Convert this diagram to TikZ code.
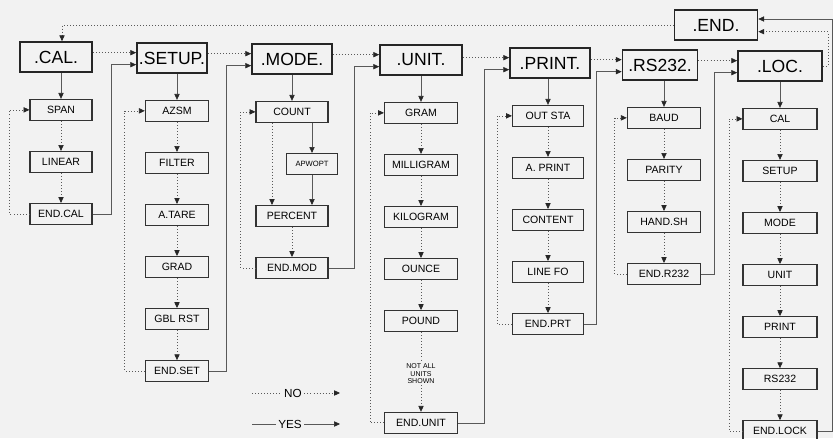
\documentclass[tikz,border=0pt]{standalone}
\usepackage{fontspec}
\setsansfont{Liberation Sans}
\usetikzlibrary{positioning,arrows.meta,calc}
\begin{document}
\begin{tikzpicture}[
      x=0.03cm, y=-0.03cm,
      font=\sffamily,
      >={Triangle[length=5pt,width=4.5pt,color=black!85]},
      node distance=0.9cm,
      menu/.style={draw=black!85, line width=1.4pt, minimum width=#1, minimum height=0.9cm, inner sep=1pt, font=\sffamily\fontsize{15}{16}\selectfont},
      sub/.style={draw=black!80, line width=0.9pt, minimum width=#1, minimum height=0.63cm, inner sep=1pt, font=\sffamily\fontsize{9}{10}\selectfont},
      note/.style={align=center, minimum height=0.63cm, inner sep=1pt, font=\sffamily\fontsize{6}{6.5}\selectfont},
      legend/.style={inner sep=2pt, font=\sffamily\fontsize{10}{10}\selectfont},
      yes/.style={draw=black!65, line width=0.5pt},
      no/.style={draw=black!65, line width=0.6pt, dotted}
  ]
    \fill[black!5] (0,0) rectangle (833,438);
    \useasboundingbox (0,0) rectangle (833,438);

    \node[menu=2.16cm] (calt) at (56,57) {.CAL.};
    \node[menu=2.1cm] (setupt) at (172,58) {.SETUP.};
    \node[menu=2.4cm] (modet) at (292,59) {.MODE.};
    \node[menu=2.46cm] (unitt) at (421,60) {.UNIT.};
    \node[menu=2.4cm] (printt) at (550,63) {.PRINT.};
    \node[menu=2.25cm] (rs232t) at (660,65) {.RS232.};
    \node[menu=2.52cm] (loct) at (780,66) {.LOC.};
    \node[menu=2.49cm] (endt) at (716,25) {.END.};

    \node[sub=1.86cm, below=0.78cm of calt, xshift=0.15cm] (span) {SPAN};
    \node[sub=1.86cm, below=of span] (linear) {LINEAR};
    \node[sub=1.86cm, below=of linear] (endcal) {END.CAL};

    \node[sub=1.9cm, below=0.78cm of setupt, xshift=0.15cm] (azsm) {AZSM};
    \node[sub=1.9cm, below=of azsm] (filter) {FILTER};
    \node[sub=1.9cm, below=of filter] (atare) {A.TARE};
    \node[sub=1.9cm, below=of atare] (grad) {GRAD};
    \node[sub=1.9cm, below=of grad] (gblrst) {GBL RST};
    \node[sub=1.9cm, below=of gblrst] (endset) {END.SET};

    \node[sub=2.16cm, below=0.78cm of modet] (count) {COUNT};
    \node[sub=1.53cm, below=of count, xshift=0.6cm, font=\sffamily\fontsize{6.5}{7}\selectfont] (apwopt) {APWOPT};
    \node[sub=2.16cm, below=of apwopt, xshift=-0.6cm] (percent) {PERCENT};
    \node[sub=2.16cm, below=of percent] (endmod) {END.MOD};

    \node[sub=2.19cm, below=0.78cm of unitt] (gram) {GRAM};
    \node[sub=2.19cm, below=of gram] (milligram) {MILLIGRAM};
    \node[sub=2.19cm, below=of milligram] (kilogram) {KILOGRAM};
    \node[sub=2.19cm, below=of kilogram] (ounce) {OUNCE};
    \node[sub=2.19cm, below=of ounce] (pound) {POUND};
    \node[note, below=of pound] (notall) {NOT ALL\\UNITS\\SHOWN};
    \node[sub=2.19cm, below=0.8cm of notall] (endunit) {END.UNIT};

    \node[sub=2.13cm, below=0.78cm of printt, xshift=-0.06cm] (outsta) {OUT STA};
    \node[sub=2.13cm, below=of outsta] (aprint) {A. PRINT};
    \node[sub=2.13cm, below=of aprint] (content) {CONTENT};
    \node[sub=2.13cm, below=of content] (linefo) {LINE FO};
    \node[sub=2.13cm, below=of linefo] (endprt) {END.PRT};

    \node[sub=2.2cm, below=0.78cm of rs232t, xshift=0.12cm] (baud) {BAUD};
    \node[sub=2.2cm, below=of baud] (parity) {PARITY};
    \node[sub=2.2cm, below=of parity] (handsh) {HAND.SH};
    \node[sub=2.2cm, below=of handsh] (endrs) {END.R232};

    \node[sub=2.22cm, below=0.78cm of loct] (lcal) {CAL};
    \node[sub=2.22cm, below=of lcal] (lsetup) {SETUP};
    \node[sub=2.22cm, below=of lsetup] (lmode) {MODE};
    \node[sub=2.22cm, below=of lmode] (lunit) {UNIT};
    \node[sub=2.22cm, below=of lunit] (lprint) {PRINT};
    \node[sub=2.22cm, below=of lprint] (lrs) {RS232};
    \node[sub=2.22cm, below=of lrs] (endlock) {END.LOCK};

    \coordinate (setupa) at ([yshift=0.16cm]setupt.west);
    \coordinate (setupb) at ([yshift=-0.2cm]setupt.west);
    \coordinate (modea) at ([yshift=0.16cm]modet.west);
    \coordinate (modeb) at ([yshift=-0.2cm]modet.west);
    \coordinate (unita) at ([yshift=0.16cm]unitt.west);
    \coordinate (unitb) at ([yshift=-0.2cm]unitt.west);
    \coordinate (printa) at ([yshift=0.16cm]printt.west);
    \coordinate (printb) at ([yshift=-0.2cm]printt.west);
    \coordinate (rsa) at ([yshift=0.16cm]rs232t.west);
    \coordinate (rsb) at ([yshift=-0.2cm]rs232t.west);
    \coordinate (loca) at ([yshift=0.16cm]loct.west);
    \coordinate (locb) at ([yshift=-0.2cm]loct.west);
    \coordinate (enda) at ([yshift=0.18cm]endt.east);
    \coordinate (endb) at ([yshift=-0.2cm]endt.east);
    \coordinate (rail) at (828,0);
    \coordinate (edge) at (832,0);

    \draw[no,->] (endt.west) -| ([xshift=0.18cm]calt.north);
    \draw[no,->] (calt.east |- setupa) -- (setupa);
    \draw[no,->] (setupt.east |- modea) -- (modea);
    \draw[no,->] (modet.east |- unita) -- (unita);
    \draw[no,->] (unitt.east |- printa) -- (printa);
    \draw[no,->] (printt.east |- rsa) -- (rsa);
    \draw[no,->] (rs232t.east |- loca) -- (loca);
    \draw[no,->] (loct.east) -| (rail |- endb) -- (endb);

    \draw[yes,->] (endcal.east) -| ([xshift=-0.75cm]setupb) -- (setupb);
    \draw[yes,->] (endset.east) -| ([xshift=-0.75cm]modeb) -- (modeb);
    \draw[yes,->] (endmod.east) -| ([xshift=-0.75cm]unitb) -- (unitb);
    \draw[yes,->] (endunit.east) -| ([xshift=-0.75cm]printb) -- (printb);
    \draw[yes,->] (endprt.east) -| ([xshift=-0.75cm]rsb) -- (rsb);
    \draw[yes,->] (endrs.east) -| ([xshift=-0.7cm]locb) -- (locb);
    \draw[yes,->] (endlock.east) -| (edge |- enda) -- (enda);

    \draw[yes,->] (calt.south -| span) -- (span);
    \draw[no,->] (span) -- (linear);
    \draw[no,->] (linear) -- (endcal);
    \draw[no,->] (endcal.west) -- ++(-0.6cm,0) |- (span.west);

    \draw[yes,->] (setupt.south -| azsm) -- (azsm);
    \draw[no,->] (azsm) -- (filter);
    \draw[no,->] (filter) -- (atare);
    \draw[no,->] (atare) -- (grad);
    \draw[no,->] (grad) -- (gblrst);
    \draw[no,->] (gblrst) -- (endset);
    \draw[no,->] (endset.west) -- ++(-0.6cm,0) |- (azsm.west);

    \draw[yes,->] (modet.south -| count) -- (count);
    \draw[no,->] ([xshift=-0.6cm]count.south) -- ([xshift=-0.6cm]percent.north);
    \draw[yes,->] (count.south -| apwopt) -- (apwopt);
    \draw[yes,->] (apwopt) -- (apwopt |- percent.north);
    \draw[no,->] (percent) -- (endmod);
    \draw[no,->] (endmod.west) -- ++(-0.45cm,0) |- (count.west);

    \draw[yes,->] (unitt.south -| gram) -- (gram);
    \draw[no,->] (gram) -- (milligram);
    \draw[no,->] (milligram) -- (kilogram);
    \draw[no,->] (kilogram) -- (ounce);
    \draw[no,->] (ounce) -- (pound);
    \draw[no] (pound) -- (notall);
    \draw[no,->] (notall) -- (endunit);
    \draw[no,->] (endunit.west) -- ++(-0.42cm,0) |- (gram.west);

    \draw[yes,->] (printt.south -| outsta) -- (outsta);
    \draw[no,->] (outsta) -- (aprint);
    \draw[no,->] (aprint) -- (content);
    \draw[no,->] (content) -- (linefo);
    \draw[no,->] (linefo) -- (endprt);
    \draw[no,->] (endprt.west) -- ++(-0.45cm,0) |- (outsta.west);

    \draw[yes,->] (rs232t.south -| baud) -- (baud);
    \draw[no,->] (baud) -- (parity);
    \draw[no,->] (parity) -- (handsh);
    \draw[no,->] (handsh) -- (endrs);
    \draw[no,->] (endrs.west) -- ++(-0.36cm,0) |- (baud.west);

    \draw[yes,->] (loct.south -| lcal) -- (lcal);
    \draw[no,->] (lcal) -- (lsetup);
    \draw[no,->] (lsetup) -- (lmode);
    \draw[no,->] (lmode) -- (lunit);
    \draw[no,->] (lunit) -- (lprint);
    \draw[no,->] (lprint) -- (lrs);
    \draw[no,->] (lrs) -- (endlock);
    \draw[no,->] (endlock.west) -- ++(-0.4cm,0) |- (lcal.west);

    \node[legend] (nolbl) at (293,393) {NO};
    \coordinate (nostart) at (252,393);
    \coordinate (noend) at (340,393);
    \draw[no] (nostart) -- (nolbl);
    \draw[no,->] (nolbl) -- (noend);
    \node[legend] (yeslbl) at (290,424) {YES};
    \coordinate (yesstart) at (252,424);
    \coordinate (yesend) at (340,424);
    \draw[yes] (yesstart) -- (yeslbl);
    \draw[yes,->] (yeslbl) -- (yesend);
  \end{tikzpicture}
\end{document}
